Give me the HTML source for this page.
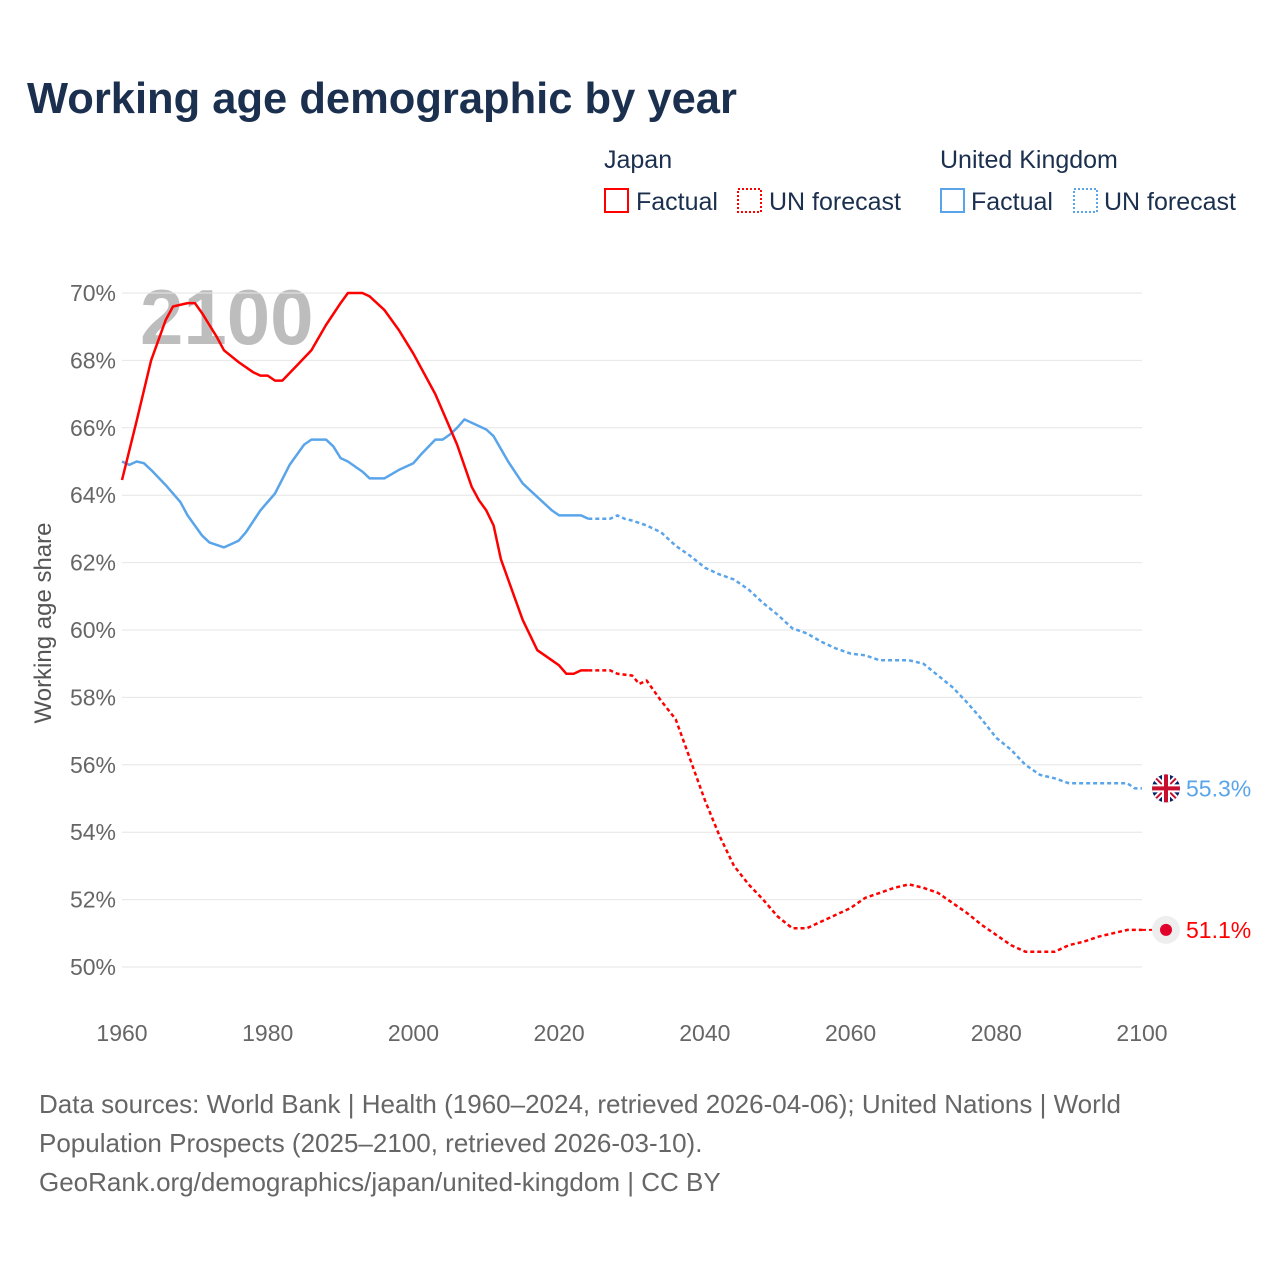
<!DOCTYPE html>
<html><head><meta charset="utf-8">
<style>
body{margin:0;background:#fff;font-family:"Liberation Sans",sans-serif;}
#wrap{position:relative;width:1280px;height:1280px;overflow:hidden;}
</style></head>
<body>
<div id="wrap">
<svg id="chart" width="1280" height="1280" xmlns="http://www.w3.org/2000/svg">
<text x="27" y="113" font-size="43.5" font-weight="bold" fill="#1b2f4e">Working age demographic by year</text>
<g font-size="25" fill="#1b2f4e">
<text x="604" y="168">Japan</text>
<text x="940" y="168">United Kingdom</text>
<g><rect x="605" y="189" width="23" height="23" fill="none" stroke="#f00" stroke-width="2"/><text x="636" y="210">Factual</text></g>
<g><rect x="738" y="189" width="23" height="23" fill="none" stroke="#f00" stroke-width="2" stroke-dasharray="2,2"/><text x="769" y="210">UN forecast</text></g>
<g><rect x="941" y="189" width="23" height="23" fill="none" stroke="#5aa5ea" stroke-width="2"/><text x="971" y="210">Factual</text></g>
<g><rect x="1074" y="189" width="23" height="23" fill="none" stroke="#5aa5ea" stroke-width="2" stroke-dasharray="2,2"/><text x="1104" y="210">UN forecast</text></g>
</g>
<text x="140" y="344" font-size="78" font-weight="bold" fill="#bdbdbd">2100</text>
<g id="grid"></g><g id="series"></g>
<text transform="translate(51,623) rotate(-90)" text-anchor="middle" font-size="24" fill="#555">Working age share</text>
<g font-size="26" fill="#666">
<text x="39" y="1113">Data sources: World Bank | Health (1960–2024, retrieved 2026-04-06); United Nations | World</text>
<text x="39" y="1152">Population Prospects (2025–2100, retrieved 2026-03-10).</text>
<text x="39" y="1191">GeoRank.org/demographics/japan/united-kingdom | CC BY</text>
</g>
</svg>
</div>
<script>
const yTicks=[50,52,54,56,58,60,62,64,66,68,70];
const xTicks=[1960,1980,2000,2020,2040,2060,2080,2100];
const jpYears=[1960,1962,1964,1966,1967,1969,1970,1971,1972,1973,1974,1976,1978,1979,1980,1981,1982,1984,1986,1988,1990,1991,1993,1994,1996,1998,2000,2002,2003,2004,2006,2008,2009,2010,2011,2012,2014,2015,2017,2019,2020,2021,2022,2023,2024];
const jpValues=[64.45,66.2,68.0,69.2,69.6,69.7,69.7,69.4,69.05,68.7,68.3,67.95,67.65,67.55,67.55,67.4,67.4,67.85,68.3,69.05,69.7,70.0,70.0,69.9,69.5,68.9,68.2,67.4,67.0,66.5,65.5,64.25,63.85,63.55,63.1,62.1,60.9,60.3,59.4,59.1,58.95,58.7,58.7,58.8,58.8];
const jpFcYears=[2024,2025,2027,2028,2030,2031,2032,2034,2036,2038,2040,2042,2044,2046,2048,2050,2052,2054,2056,2058,2060,2062,2064,2066,2068,2070,2072,2074,2076,2078,2080,2082,2084,2086,2088,2090,2092,2094,2096,2098,2100];
const jpFcValues=[58.8,58.8,58.8,58.7,58.65,58.4,58.5,57.9,57.35,56.15,54.95,53.9,53.0,52.45,52.0,51.5,51.15,51.15,51.35,51.55,51.75,52.05,52.2,52.35,52.45,52.35,52.2,51.9,51.6,51.25,50.95,50.65,50.45,50.45,50.45,50.65,50.75,50.9,51.0,51.1,51.1];
const ukYears=[1960,1961,1962,1963,1964,1966,1968,1969,1971,1972,1974,1976,1977,1979,1981,1983,1985,1986,1988,1989,1990,1991,1993,1994,1996,1998,2000,2001,2003,2004,2005,2006,2007,2009,2010,2011,2013,2015,2017,2019,2020,2022,2023,2024];
const ukValues=[65.0,64.9,65.0,64.95,64.75,64.3,63.8,63.4,62.8,62.6,62.45,62.65,62.9,63.55,64.05,64.9,65.5,65.65,65.65,65.45,65.1,65.0,64.7,64.5,64.5,64.75,64.95,65.2,65.65,65.65,65.8,66.0,66.25,66.05,65.95,65.75,65.0,64.35,63.95,63.55,63.4,63.4,63.4,63.3];
const ukFcYears=[2024,2025,2027,2028,2029,2030,2032,2034,2036,2038,2040,2042,2044,2046,2048,2050,2052,2054,2056,2058,2060,2062,2064,2066,2068,2070,2072,2074,2076,2078,2080,2082,2084,2086,2088,2090,2092,2094,2096,2098,2099,2100];
const ukFcValues=[63.3,63.3,63.3,63.4,63.3,63.25,63.1,62.9,62.5,62.2,61.85,61.65,61.5,61.2,60.8,60.45,60.05,59.9,59.65,59.45,59.3,59.25,59.1,59.1,59.1,59.0,58.65,58.3,57.85,57.35,56.8,56.45,56.0,55.7,55.6,55.45,55.45,55.45,55.45,55.45,55.3,55.3];

const NS='http://www.w3.org/2000/svg';
const xS=y=>122+(y-1960)*(1142-122)/140;
const yS=v=>967-(v-50)*(967-293)/20;
const grid=document.getElementById('grid'), ser=document.getElementById('series');
function mk(tag,attrs,parent){const e=document.createElementNS(NS,tag);for(const k in attrs)e.setAttribute(k,attrs[k]);parent.appendChild(e);return e;}
yTicks.forEach(t=>{
 const l=mk('line',{x1:122,x2:1142,y1:yS(t),y2:yS(t),stroke:'#e6e6e6','stroke-width':1},grid);
 
 
 const tx=mk('text',{x:116,y:yS(t)+8,'text-anchor':'end','font-size':23,fill:'#666'},grid);
 tx.textContent=t+'%';
 
 
});
xTicks.forEach(t=>{
 const tx=mk('text',{x:xS(t),y:1041,'text-anchor':'middle','font-size':23,fill:'#666'},grid);
 tx.textContent=t;
 
 
});
function line(xs,vs,color,dash,name){
 const d=xs.map((y,i)=>(i?'L':'M')+xS(y).toFixed(1)+','+yS(vs[i]).toFixed(1)).join('');
 const p=mk('path',{d:d,fill:'none',stroke:color,'stroke-width':2.5,'stroke-linejoin':'round'},ser);
 if(dash)p.setAttribute('stroke-dasharray','4,3');
 
 
}
line(ukYears,ukValues,'#5aa5ea',false,'uk-factual-line');
line(ukFcYears,ukFcValues,'#5aa5ea',true,'uk-forecast-line');
line(jpYears,jpValues,'#f00',false,'japan-factual-line');
line(jpFcYears,jpFcValues,'#f00',true,'japan-forecast-line');
const jl=jpFcValues[jpFcValues.length-1], ul=ukFcValues[ukFcValues.length-1];
const mx=xS(2100)+24;
const jc=mk('g',{},ser);


mk('circle',{cx:mx,cy:yS(jl),r:14,fill:'#eee'},jc);
mk('circle',{cx:mx,cy:yS(jl),r:6,fill:'#e0002a'},jc);
mk('line',{x1:xS(2100),x2:mx-14,y1:yS(jl),y2:yS(jl),stroke:'#f00','stroke-width':2,'stroke-dasharray':'4,3'},jc);
const jt=mk('text',{x:mx+20,y:yS(jl)+8,'font-size':23,fill:'#f00'},ser);
jt.textContent=jl.toFixed(1)+'%';


const uc=mk('g',{},ser);


const cy=yS(ul);
const cp=mk('clipPath',{id:'fc'},uc);
mk('circle',{cx:mx,cy:cy,r:14},cp);
const fg=mk('g',{'clip-path':'url(#fc)'},uc);
mk('rect',{x:mx-15,y:cy-15,width:30,height:30,fill:'#012169'},fg);
mk('path',{d:`M${mx-15},${cy-15}L${mx+15},${cy+15}M${mx+15},${cy-15}L${mx-15},${cy+15}`,stroke:'#fff','stroke-width':6},fg);
mk('path',{d:`M${mx-15},${cy-15}L${mx+15},${cy+15}M${mx+15},${cy-15}L${mx-15},${cy+15}`,stroke:'#c8102e','stroke-width':2},fg);
mk('path',{d:`M${mx},${cy-15}V${cy+15}M${mx-15},${cy}H${mx+15}`,stroke:'#fff','stroke-width':8},fg);
mk('path',{d:`M${mx},${cy-15}V${cy+15}M${mx-15},${cy}H${mx+15}`,stroke:'#c8102e','stroke-width':4},fg);
const ut=mk('text',{x:mx+20,y:cy+8,'font-size':23,fill:'#5aa5ea'},ser);
ut.textContent=ul.toFixed(1)+'%';


</script>
</body></html>
